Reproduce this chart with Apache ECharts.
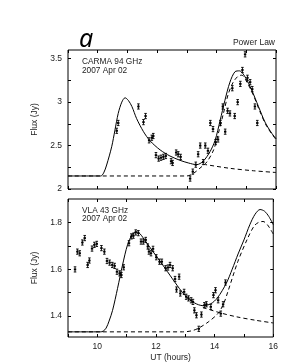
<!DOCTYPE html>
<html><head><meta charset="utf-8">
<script src="https://cdn.jsdelivr.net/npm/echarts@6/dist/echarts.min.js"></script>
<style>html,body{margin:0;padding:0;background:#fff}#c{width:281px;height:363px}</style>
</head><body><div id="c"></div>
<script>
// ---- Data ----
const xTicks = [9, 10, 11, 12, 13, 14, 15, 16];
const xLabels = [10, 12, 14, 16];
const topYTicks = [2, 2.25, 2.5, 2.75, 3, 3.25, 3.5];
const topYLabels = [2, 2.5, 3, 3.5];
const botYTicks = [1.4, 1.5, 1.6, 1.7, 1.8];
const botYLabels = [1.4, 1.6, 1.8];

// CARMA 94 GHz points [UT, flux]
const carmaPoints = [
  [10.64,2.67],[10.69,2.76],[11.37,2.95],[11.54,2.77],[11.61,2.84],[11.73,2.56],[11.82,2.59],[11.87,2.61],
  [11.96,2.39],[12.05,2.35],[12.13,2.36],[12.21,2.37],[12.29,2.38],[12.47,2.32],[12.52,2.30],[12.64,2.42],
  [12.71,2.40],[12.79,2.37],[13.11,2.12],[13.20,2.20],[13.30,2.28],[13.38,2.40],[13.45,2.50],[13.55,2.31],
  [13.62,2.50],[13.71,2.44],[13.79,2.76],[13.88,2.69],[13.97,2.54],[14.05,2.57],[14.13,2.76],[14.21,2.95],
  [14.29,2.66],[14.37,2.90],[14.45,2.87],[14.53,3.16],[14.61,2.84],[14.71,3.00],[14.80,3.21],[14.87,3.37],
  [14.96,3.55],[15.04,3.28],[15.13,3.23],[15.20,3.15],[15.29,2.95],[15.37,2.76]
];
const carmaModel = [
  [9,2.15],[10.1,2.15],[10.2,2.185],[10.3,2.276],[10.47,2.486],[10.58,2.678],[10.69,2.87],[10.81,3.0],
  [10.92,3.05],[11.03,3.02],[11.15,2.95],[11.31,2.81],[11.54,2.66],[11.76,2.555],[12.1,2.45],[12.43,2.38],
  [12.77,2.33],[13.05,2.30],[13.33,2.28],[13.55,2.32],[13.78,2.43],[13.95,2.56],[14.12,2.79],[14.28,3.02],
  [14.45,3.23],[14.62,3.35],[14.77,3.36],[14.96,3.29],[15.18,3.14],[15.41,2.95],[15.63,2.77],[15.86,2.64],[16,2.58]
];
const carmaFlare2 = [
  [9,2.15],[13.0,2.15],[13.22,2.18],[13.44,2.24],[13.67,2.31],[13.9,2.45],[14.06,2.64],[14.23,2.87],
  [14.4,3.10],[14.56,3.23],[14.73,3.30],[14.85,3.31],[15.02,3.23],[15.24,3.08],[15.46,2.89],[15.69,2.72],
  [15.91,2.61],[16,2.57]
];
const carmaFlare1Tail = [[13.55,2.285],[14.45,2.238],[15.24,2.21],[16,2.19]];

// VLA 43 GHz points [UT, flux]
const vlaPoints = [
  [9.24,1.599],[9.32,1.675],[9.40,1.668],[9.49,1.714],[9.57,1.733],[9.67,1.618],[9.73,1.637],[9.82,1.688],
  [9.90,1.704],[9.98,1.708],[10.14,1.690],[10.24,1.675],[10.33,1.635],[10.42,1.628],[10.51,1.618],[10.59,1.614],
  [10.67,1.589],[10.76,1.582],[10.82,1.575],[10.90,1.608],[11.08,1.711],[11.16,1.740],[11.23,1.743],[11.31,1.757],
  [11.40,1.754],[11.49,1.718],[11.57,1.718],[11.65,1.725],[11.72,1.697],[11.76,1.675],[11.83,1.668],[11.90,1.687],
  [12.01,1.651],[12.12,1.632],[12.20,1.632],[12.33,1.604],[12.41,1.607],[12.48,1.618],[12.57,1.604],[12.65,1.558],
  [12.70,1.513],[12.79,1.568],[12.83,1.496],[12.96,1.503],[13.03,1.482],[13.11,1.475],[13.20,1.467],[13.26,1.460],
  [13.31,1.424],[13.38,1.403],[13.46,1.345],[13.55,1.406],[13.65,1.446],[13.72,1.450],[13.87,1.439],[13.96,1.489],
  [14.03,1.510],[14.12,1.467],[14.21,1.410],[14.29,1.450],[14.37,1.543]
];
const vlaModel = [
  [9,1.332],[10.1,1.332],[10.2,1.335],[10.3,1.348],[10.4,1.378],[10.52,1.424],[10.69,1.518],[10.86,1.618],
  [11.03,1.704],[11.2,1.750],[11.33,1.760],[11.45,1.752],[11.64,1.720],[11.98,1.661],[12.31,1.604],[12.64,1.545],
  [12.98,1.489],[13.31,1.456],[13.6,1.444],[13.87,1.452],[14.1,1.478],[14.4,1.54],[14.6,1.60],[14.8,1.665],
  [15.0,1.725],[15.2,1.79],[15.38,1.835],[15.55,1.855],[15.7,1.848],[15.85,1.825],[16,1.79]
];
const vlaFlare2 = [
  [9,1.332],[12.9,1.332],[13.2,1.336],[13.44,1.347],[13.78,1.374],[14.11,1.410],[14.3,1.45],[14.45,1.503],
  [14.79,1.632],[15.13,1.733],[15.35,1.785],[15.5,1.80],[15.65,1.804],[15.8,1.79],[16,1.75]
];
const vlaFlare1Tail = [[13.6,1.436],[14.2,1.413],[14.76,1.396],[15.42,1.381],[16,1.370]];

// ---- Chart ----
const FONT = '"Liberation Sans", Arial, sans-serif';
const chart = echarts.init(document.getElementById('c'), null, {renderer: 'canvas'});
const near = (v, arr) => arr.some(a => Math.abs(a - v) < 1e-6);
const fmtY = v => String(Math.round(v * 100) / 100);

function xAxisCfg(gi, pos, labels) {
  return {
    type: 'value', gridIndex: gi, position: pos, min: 9, max: 16,
    axisLine: {show: false},
    splitLine: {show: false},
    axisTick: {show: true, inside: true, length: 3, lineStyle: {color: '#000', width: 1}, customValues: xTicks},
    axisLabel: {show: labels, customValues: xLabels, fontFamily: FONT, fontSize: 8.5, color: '#222', margin: 5},
    name: (labels ? 'UT (hours)' : ''), nameLocation: 'middle', nameGap: 16,
    nameTextStyle: {fontFamily: FONT, fontSize: 8.5, color: '#222'}
  };
}
function yAxisCfg(gi, pos, min, max, ticks, labels, showLabel) {
  return {
    type: 'value', gridIndex: gi, position: pos, min: min, max: max,
    axisLine: {show: false},
    splitLine: {show: false},
    axisTick: {show: true, inside: true, length: 3, lineStyle: {color: '#000', width: 1}, customValues: ticks},
    axisLabel: {show: showLabel, customValues: labels, formatter: fmtY, fontFamily: FONT, fontSize: 8.5, color: '#222', margin: 6},
    name: (showLabel ? 'Flux (Jy)' : ''), nameLocation: 'middle', nameGap: 25,
    nameTextStyle: {fontFamily: FONT, fontSize: 8.5, color: '#222'}
  };
}

function errRender(params, api) {
  const p = api.coord([api.value(0), api.value(1)]);
  const h = 2.6, w = 1.3;
  const st = {stroke: '#000', lineWidth: 0.9};
  return {type: 'group', children: [
    {type: 'line', shape: {x1: p[0], y1: p[1] - h, x2: p[0], y2: p[1] + h}, style: st},
    {type: 'line', shape: {x1: p[0] - w, y1: p[1] - h, x2: p[0] + w, y2: p[1] - h}, style: st},
    {type: 'line', shape: {x1: p[0] - w, y1: p[1] + h, x2: p[0] + w, y2: p[1] + h}, style: st},
    {type: 'rect', shape: {x: p[0] - 1.2, y: p[1] - 0.9, width: 2.4, height: 1.8}, style: {fill: '#000'}}
  ]};
}
function lineS(xi, yi, data, dashed) {
  return {
    type: 'line', xAxisIndex: xi, yAxisIndex: yi, data: data, showSymbol: false, smooth: 0.3,
    lineStyle: {color: '#000', width: 1, type: dashed ? [4, 3] : 'solid'}, silent: true, animation: false
  };
}
function ptsS(xi, yi, data) {
  return {type: 'custom', xAxisIndex: xi, yAxisIndex: yi, data: data, renderItem: errRender, animation: false, silent: true};
}

const option = {
  animation: false,
  backgroundColor: '#fff',
  grid: [
    {left: 68, top: 50, width: 208, height: 139, show: true, borderColor: '#000', borderWidth: 1, backgroundColor: 'transparent'},
    {left: 68, top: 199, width: 208, height: 138, show: true, borderColor: '#000', borderWidth: 1, backgroundColor: 'transparent'}
  ],
  xAxis: [
    xAxisCfg(0, 'bottom', false),
    xAxisCfg(0, 'top', false),
    xAxisCfg(1, 'bottom', true),
    xAxisCfg(1, 'top', false)
  ],
  yAxis: [
    yAxisCfg(0, 'left', 2, 3.6, topYTicks, topYLabels, true),
    yAxisCfg(0, 'right', 2, 3.6, topYTicks, topYLabels, false),
    yAxisCfg(1, 'left', 1.31, 1.9, botYTicks, botYLabels, true),
    yAxisCfg(1, 'right', 1.31, 1.9, botYTicks, botYLabels, false)
  ],
  series: [
    lineS(0, 0, carmaModel, false),
    lineS(0, 0, carmaFlare2, true),
    lineS(0, 0, carmaFlare1Tail, true),
    ptsS(0, 0, carmaPoints),
    lineS(2, 2, vlaModel, false),
    lineS(2, 2, vlaFlare2, true),
    lineS(2, 2, vlaFlare1Tail, true),
    ptsS(2, 2, vlaPoints)
  ],
  graphic: [
    {type: 'text', left: 79, top: 27, style: {text: 'a', font: 'italic 25px "Noto Sans", "Open Sans", sans-serif', fill: '#000'}},
    {type: 'text', right: 6, top: 38, style: {text: 'Power Law', font: '8.5px ' + FONT, fill: '#222'}},
    {type: 'text', left: 82, top: 57, style: {text: 'CARMA 94 GHz\n2007 Apr 02', font: '8.3px ' + FONT, fill: '#222', lineHeight: 9}},
    {type: 'text', left: 82, top: 206, style: {text: 'VLA 43 GHz\n2007 Apr 02', font: '8.3px ' + FONT, fill: '#222', lineHeight: 8.5}}
  ]
};
chart.setOption(option);
</script></body></html>
